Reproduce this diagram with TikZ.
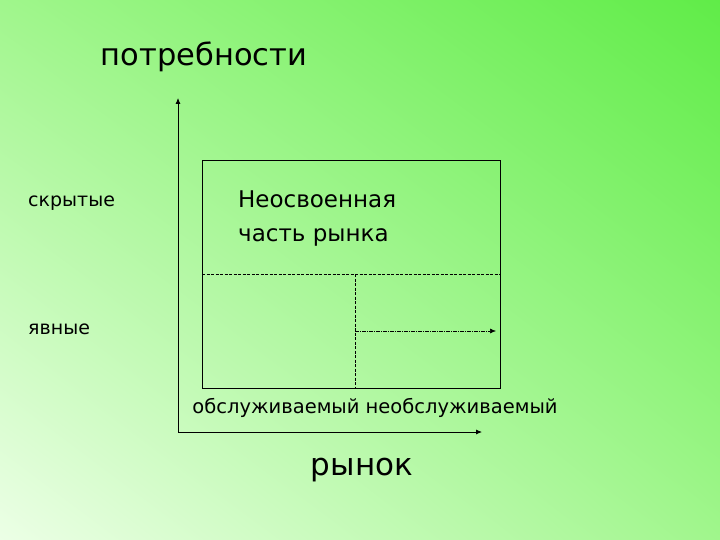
\documentclass[tikz,border=0pt]{standalone}
\usepackage{fontspec}
\setmainfont{DejaVu Sans}
\usetikzlibrary{arrows.meta,shadings}
\definecolor{bgA}{RGB}{236,255,230}
\definecolor{bgB}{RGB}{96,236,72}
\definecolor{bgC}{RGB}{160,246,140}
\begin{document}
\begin{tikzpicture}[x=1pt,y=-1pt,
  lbl/.style={inner sep=0pt,font=\fontsize{19}{22}\selectfont},
  ax/.style={line width=0.8pt,-{Latex[length=6pt,width=5pt]}},
  thin/.style={line width=0.6pt}]
\useasboundingbox (0,0) rectangle (720,540);
\shade[lower left=bgA,upper right=bgB,upper left=bgC,lower right=bgC] (0,0) rectangle (720,540);
\coordinate (o) at (178,432);
\coordinate (ytop) at (178,98);
\coordinate (xend) at (482,432);
\draw[ax] (o) -- (ytop);
\draw[ax] (o) -- (xend);
\node[draw,thin,minimum width=298pt,minimum height=228pt,anchor=north west,inner sep=0pt] (box) at (202,160) {};
\coordinate (hl) at (202,274); \coordinate (hr) at (500,274);
\coordinate (vt) at (355,274); \coordinate (vb) at (355,388);
\coordinate (as) at (355,331); \coordinate (ae) at (496,331);
\draw[thin,dashed,dash pattern=on 3pt off 1.5pt] (hl) -- (hr);
\draw[thin,dashed,dash pattern=on 3pt off 1.5pt] (vt) -- (vb);
\draw[thin,dash pattern=on 4pt off 1pt on 1pt off 1pt,-{Latex[length=6pt,width=5pt]}] (as) -- (ae);
\node[lbl,font=\fontsize{30.5}{34}\selectfont] (t1) at (204,57) {потребности};
\node[lbl,anchor=west] (t2) at (28,203) {скрытые};
\node[lbl,anchor=west] (t3) at (28,329) {явные};
\node[lbl,anchor=west,align=left,font=\fontsize{23}{34}\selectfont] (t4) at (238,219) {Неосвоенная\\часть рынка};
\node[lbl,font=\fontsize{19.5}{22}\selectfont] (t5) at (375,408) {обслуживаемый необслуживаемый};
\node[lbl,font=\fontsize{31}{34}\selectfont] (t6) at (362,470) {рынок};
\end{tikzpicture}
\end{document}
